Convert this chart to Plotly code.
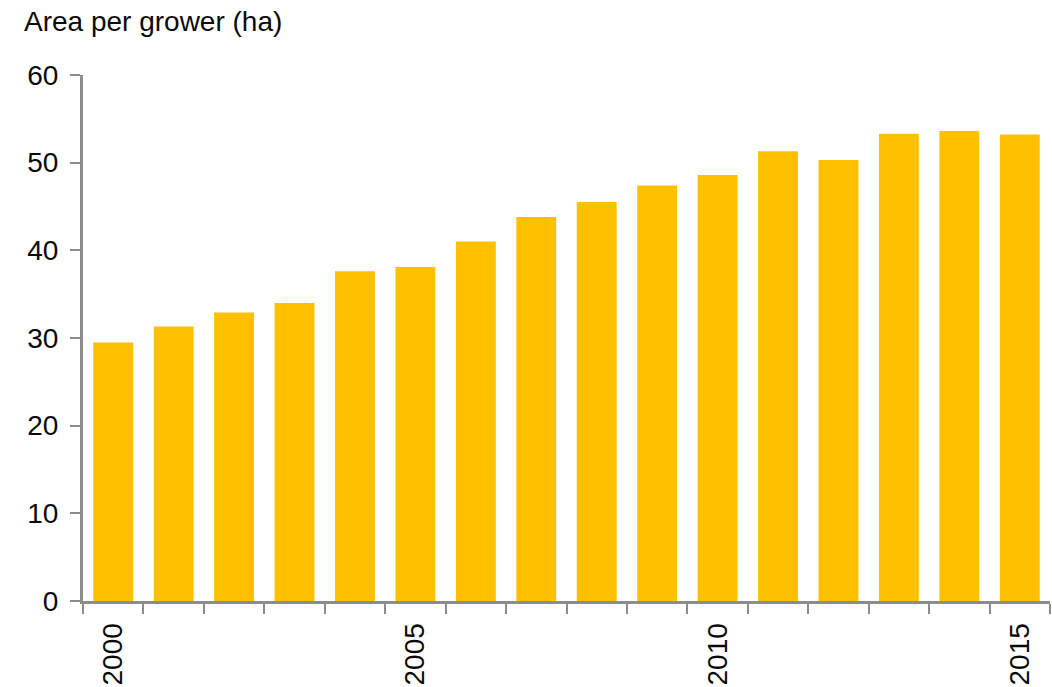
import plotly.graph_objects as go

years = list(range(2000, 2016))
area_per_grower = [29.5, 31.3, 32.9, 34.0, 37.6, 38.1, 41.0, 43.8,
                   45.5, 47.4, 48.6, 51.3, 50.3, 53.3, 53.6, 53.2]
x_tick_years = [2000, 2005, 2010, 2015]
y_ticks = [0, 10, 20, 30, 40, 50, 60]

FONT = "Liberation Sans, Arial, sans-serif"
AXIS = "#8c8c8c"
TXT = "#0a0a0a"

fig = go.Figure(go.Bar(
    x=years, y=area_per_grower,
    marker=dict(color="#FFC000", line=dict(width=0)),
    hoverinfo="x+y",
))

fig.update_layout(
    width=1052, height=687,
    margin=dict(l=83, r=2, t=75, b=86),
    paper_bgcolor="white", plot_bgcolor="white",
    bargap=0.34,
    showlegend=False,
    font=dict(family=FONT, size=28, color=TXT),
    title=dict(text="Area per grower (ha)", x=24/1052, xref="container", xanchor="left",
               y=1 - 21/687, yref="container", yanchor="middle",
               font=dict(family=FONT, size=28, color=TXT)),
)

fig.update_xaxes(
    range=[1999.5, 2015.5],
    tickmode="array", tickvals=x_tick_years, ticktext=[str(v) for v in x_tick_years],
    tickangle=-90, ticks="", ticklabelstandoff=8,
    showline=True, linecolor=AXIS, linewidth=3,
    showgrid=False, zeroline=False,
    minor=dict(tickmode="linear", tick0=1999.5, dtick=1, ticks="outside",
               ticklen=10, tickwidth=2, tickcolor=AXIS, showgrid=False),
    tickfont=dict(family=FONT, size=28, color=TXT),
)

fig.update_yaxes(
    range=[0, 60],
    tickmode="array", tickvals=y_ticks,
    ticks="outside", ticklen=10, tickwidth=2, tickcolor=AXIS,
    showline=True, linecolor=AXIS, linewidth=3,
    showgrid=False, zeroline=False,
    ticklabelstandoff=6,
    tickfont=dict(family=FONT, size=28, color=TXT),
)

fig.write_html("out.html")
